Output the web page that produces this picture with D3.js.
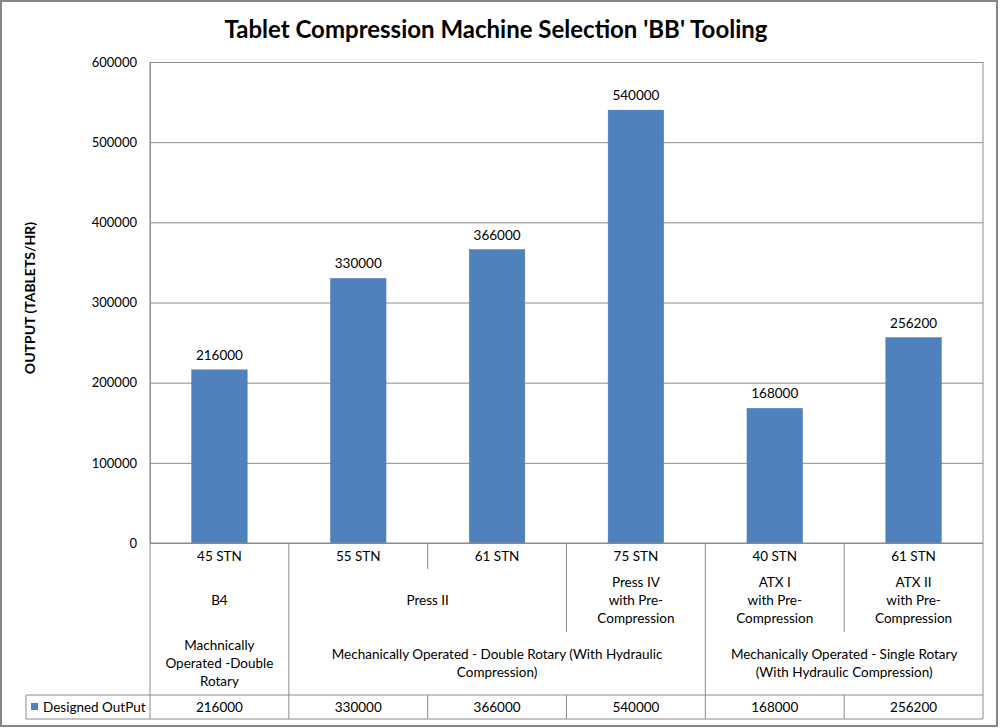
<!DOCTYPE html>
<html>
<head>
<meta charset="utf-8">
<script src="https://cdn.jsdelivr.net/npm/d3@7"></script>
<style>
  body { margin: 0; background: #fff; }
  text { font-family: Lato, "Open Sans", sans-serif; fill: #000; }
</style>
</head>
<body>
<div id="chart"></div>
<script>
// chart data
const stations = ["45 STN", "55 STN", "61 STN", "75 STN", "40 STN", "61 STN"];
const output = [216000, 330000, 366000, 540000, 168000, 256200];
const modelLabels = [["B4"], ["Press II"], ["Press IV", "with Pre-", "Compression"], ["ATX I", "with Pre-", "Compression"], ["ATX II", "with Pre-", "Compression"]];
const modelSpans = [1, 2, 1, 1, 1];
const typeLabels = [["Machnically", "Operated -Double", "Rotary"], ["Mechanically Operated - Double Rotary (With Hydraulic", "Compression)"], ["Mechanically Operated - Single Rotary", "(With Hydraulic Compression)"]];
const typeSpans = [1, 3, 2];
const yTicks = [0, 100000, 200000, 300000, 400000, 500000, 600000];
const seriesName = "Designed OutPut";

const fullWidth = 1000, fullHeight = 728;
const plot = { left: 150, right: 983, top: 62, bottom: 543 };
const rows = { l1: 569, l2: 632, l3: 695, table: 719 };  // bottoms of the label rows
const legendLeft = 26;
const barColor = "#4f81bd";
const lineColor = "#8c8c8c";
const lineH = 18;
const fs = "13.5px";

const svg = d3.select("#chart").append("svg")
    .attr("width", fullWidth)
    .attr("height", fullHeight);

// outer border
svg.append("rect")
    .attr("x", 1).attr("y", 1)
    .attr("width", 996).attr("height", 725)
    .attr("fill", "none")
    .attr("stroke", "#868686")
    .attr("stroke-width", 2);

svg.append("text")
    .attr("x", 496).attr("y", 38)
    .attr("text-anchor", "middle")
    .style("font-size", "24px")
    .style("font-weight", "bold")
    .text("Tablet Compression Machine Selection 'BB' Tooling");

const idx = d3.range(stations.length);
const x = d3.scaleBand().domain(idx).range([plot.left, plot.right]).padding(0);
const xBar = d3.scaleBand().domain(idx).range([plot.left, plot.right]).paddingInner(0.6).paddingOuter(0.3);
const y = d3.scaleLinear().domain([0, 600000]).range([plot.bottom, plot.top]);

// gridlines + y axis labels
const yAxis = d3.axisLeft(y)
    .tickValues(yTicks)
    .tickFormat(d3.format("d"))
    .tickSizeInner(-(plot.right - plot.left))
    .tickSizeOuter(0)
    .tickPadding(13);

const gY = svg.append("g")
    .attr("transform", `translate(${plot.left},0)`)
    .call(yAxis);
gY.select(".domain").attr("stroke", lineColor);
gY.selectAll(".tick line").attr("stroke", lineColor);
gY.selectAll(".tick text")
    .style("font-size", "13px")
    .attr("fill", "#000");

svg.append("text")
    .attr("transform", "translate(35,298) rotate(-90)")
    .attr("text-anchor", "middle")
    .style("font-size", "14px")
    .style("font-weight", "bold")
    .text("OUTPUT (TABLETS/HR)");

// bars
svg.selectAll(".bar")
    .data(output)
    .enter().append("rect")
    .attr("class", "bar")
    .attr("x", (d, i) => xBar(i))
    .attr("width", xBar.bandwidth())
    .attr("y", d => y(d))
    .attr("height", d => y(0) - y(d))
    .attr("fill", barColor)
    .attr("stroke", "#4a7ab3")
    .attr("stroke-width", 0.5);

svg.selectAll(".bar-label")
    .data(output)
    .enter().append("text")
    .attr("class", "bar-label")
    .attr("x", (d, i) => x(i) + x.bandwidth() / 2)
    .attr("y", d => y(d) - 10)
    .attr("text-anchor", "middle")
    .style("font-size", fs)
    .text(d => d);

// frame lines around plot / category table
const lines = svg.append("g").attr("stroke", lineColor).attr("stroke-width", 1);
const hLine = (x1, x2, yy) => lines.append("line").attr("x1", x1).attr("x2", x2).attr("y1", yy).attr("y2", yy);
const vLine = (xx, y1, y2) => lines.append("line").attr("x1", xx).attr("x2", xx).attr("y1", y1).attr("y2", y2);

hLine(plot.left, plot.right, plot.bottom);
hLine(legendLeft, plot.right, rows.l3);
hLine(legendLeft, plot.right, rows.table);
vLine(legendLeft, rows.l3, rows.table);
vLine(plot.left, plot.top, rows.table);
vLine(plot.right, plot.top, rows.table);

// category boundaries: how deep each separator goes
const modelEdges = d3.cumsum(modelSpans);
const typeEdges = d3.cumsum(typeSpans);
d3.range(1, stations.length).forEach(k => {
    const xx = x(k);
    let depth = rows.l1;
    if (modelEdges.includes(k)) depth = rows.l2;
    if (typeEdges.includes(k)) depth = rows.l3;
    vLine(xx, plot.bottom, depth);
    vLine(xx, rows.l3, rows.table);
});

// multi-line centred label
const multiText = (cx, cy, linesArr) => {
    const t = svg.append("text")
        .attr("text-anchor", "middle")
        .style("font-size", fs);
    const n = linesArr.length;
    linesArr.forEach((s, j) => {
        t.append("tspan")
            .attr("x", cx)
            .attr("y", cy + (j - (n - 1) / 2) * lineH + 4.5)
            .text(s);
    });
};

stations.forEach((s, i) => multiText(x(i) + x.bandwidth() / 2, (plot.bottom + rows.l1) / 2, [s]));

let start = 0;
modelLabels.forEach((lab, g) => {
    const end = start + modelSpans[g];
    const cx = (x(start) + x(end - 1) + x.bandwidth()) / 2;
    multiText(cx, (rows.l1 + rows.l2) / 2, lab);
    start = end;
});

start = 0;
typeLabels.forEach((lab, g) => {
    const end = start + typeSpans[g];
    const cx = (x(start) + x(end - 1) + x.bandwidth()) / 2;
    multiText(cx, (rows.l2 + rows.l3) / 2, lab);
    start = end;
});

// data table row
const rowMid = (rows.l3 + rows.table) / 2;
svg.append("rect")
    .attr("x", 31).attr("y", rowMid - 4)
    .attr("width", 7).attr("height", 7)
    .attr("fill", barColor);
svg.append("text")
    .attr("x", 43).attr("y", rowMid + 4.5)
    .style("font-size", fs)
    .text(seriesName);
output.forEach((v, i) => multiText(x(i) + x.bandwidth() / 2, rowMid, [v]));
</script>
</body>
</html>
